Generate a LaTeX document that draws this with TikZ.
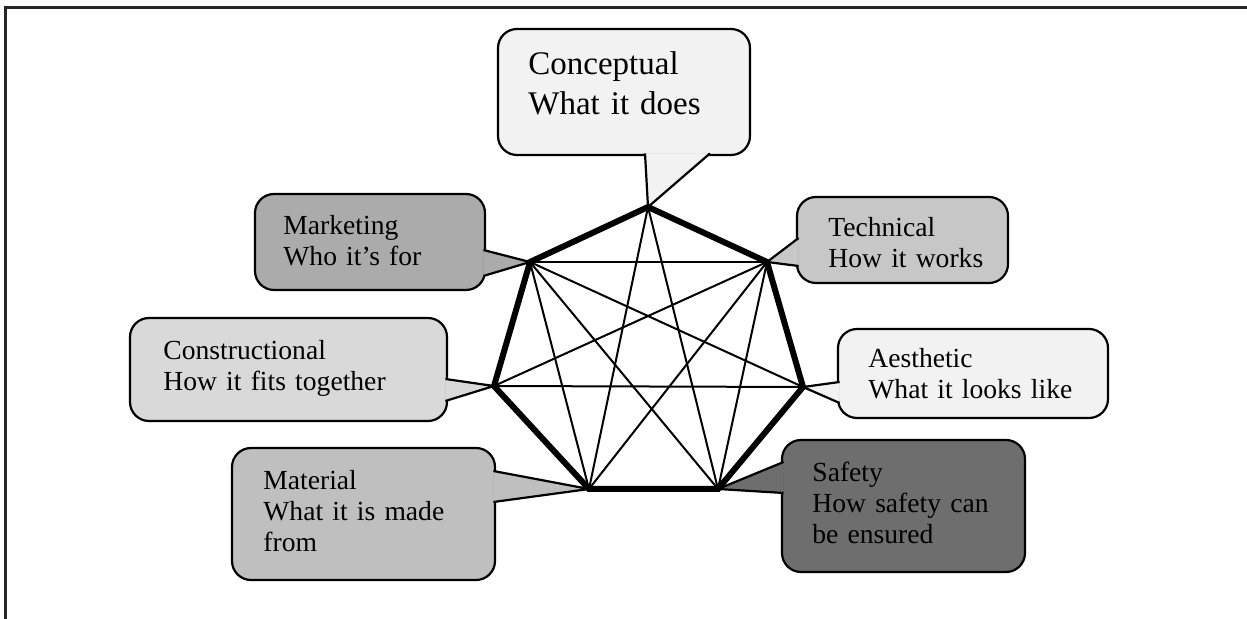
\documentclass[tikz,border=0pt]{standalone}
\usepackage{fontspec}
\setmainfont{Liberation Serif}
\usetikzlibrary{calc}

\definecolor{fillcon}{gray}{0.95}
\definecolor{fillmkt}{gray}{0.67}
\definecolor{filltec}{gray}{0.78}
\definecolor{fillcst}{gray}{0.85}
\definecolor{fillaes}{gray}{0.95}
\definecolor{fillmat}{gray}{0.75}
\definecolor{fillsaf}{gray}{0.43}

\begin{document}
\begin{tikzpicture}[x=0.5pt, y=-0.5pt,
    box/.style={draw, line width=1.1pt, rounded corners=9.5pt, outer sep=-0.8pt, inner sep=0pt},
    spike/.style={draw, line width=1.1pt},
    lbl/.style={anchor=base west, inner sep=0pt, text width=150pt, align=left, font=\fontsize{13.8}{15.3}\selectfont},
    rim/.style={line width=3pt},
    chord/.style={line width=1pt}]
    \useasboundingbox (0,0) rectangle (1247,619);
    \draw[line width=1.5pt, black!85] (1247,8) -- (5,8) -- (5,619);

    % corners of the heptagon
    \coordinate (t)  at (648,207);
    \coordinate (ur) at (767,262);
    \coordinate (r)  at (803,387);
    \coordinate (br) at (718,489);
    \coordinate (bl) at (589,489);
    \coordinate (l)  at (494,386);
    \coordinate (ul) at (530,262);

    % callouts
    \node[box, fill=fillcon, minimum width=126pt, minimum height=63pt] (con) at (624,92) {};
    \path[spike, fill=fillcon] (con.south -| 645,0) -- (t) -- (con.south -| 710,0);
    \node[box, fill=fillmkt, minimum width=115pt, minimum height=48pt] (mkt) at (370,242) {};
    \path[spike, fill=fillmkt] (mkt.east |- 0,250) -- (ul) -- (mkt.east |- 0,276);
    \node[box, fill=filltec, minimum width=105.5pt, minimum height=43pt] (tec) at (902.5,240) {};
    \path[spike, fill=filltec] (tec.west |- 0,238) -- (ur) -- (tec.west |- 0,266);
    \node[box, fill=fillcst, minimum width=158.5pt, minimum height=51.5pt] (cst) at (288.5,369.5) {};
    \path[spike, fill=fillcst] (cst.east |- 0,379) -- (l) -- (cst.east |- 0,401);
    \node[box, fill=fillaes, minimum width=135pt, minimum height=44.5pt] (aes) at (973,373.5) {};
    \path[spike, fill=fillaes] (aes.west |- 0,382) -- (r) -- (aes.west |- 0,403);
    \node[box, fill=fillmat, minimum width=131.5pt, minimum height=66pt] (mat) at (363.5,514) {};
    \path[spike, fill=fillmat] (mat.east |- 0,471) -- (bl) -- (mat.east |- 0,502);
    \node[box, fill=fillsaf, minimum width=121.5pt, minimum height=66pt] (saf) at (903.5,506) {};
    \path[spike, fill=fillsaf] (saf.west |- 0,462) -- (br) -- (saf.west |- 0,493);

    % texts
    \node[lbl, font=\fontsize{16.5}{20}\selectfont] (txtcon) at (528,75) {Conceptual\\What it does};
    \node[lbl] (txtmkt) at (283,235) {Marketing\\Who it's for};
    \node[lbl] (txttec) at (828,237) {Technical\\How it works};
    \node[lbl] (txtcst) at (163,360) {Constructional\\How it fits together};
    \node[lbl] (txtaes) at (868,368) {Aesthetic\\What it looks like};
    \node[lbl] (txtmat) at (263,490) {Material\\What it is made\\from};
    \node[lbl] (txtsaf) at (812,482) {Safety\\How safety can\\be ensured};

    % links
    \path[chord] (ul) edge (ur) edge (r) edge (br) edge (bl)
                 (ur) edge (l) edge (br) edge (bl)
                 (t) edge (bl) edge (br)
                 (l) edge (r);
    \draw[rim] (t) -- (ur) -- (r) -- (br) -- (bl) -- (l) -- (ul) -- cycle;
\end{tikzpicture}
\end{document}
